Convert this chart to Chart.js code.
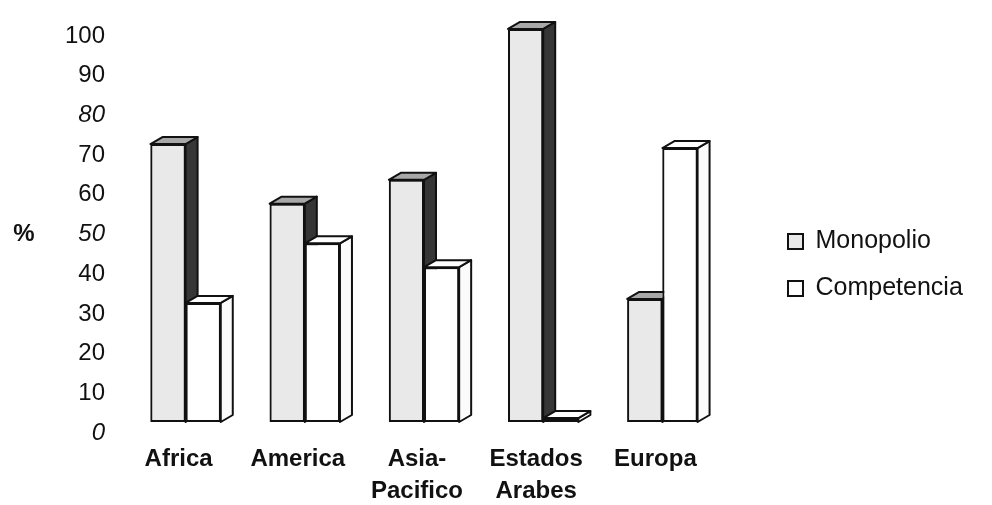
<!DOCTYPE html>
<html>
<head>
<meta charset="utf-8">
<script src="https://cdn.jsdelivr.net/npm/chart.js@4/dist/chart.umd.min.js"></script>
<style>
  body { margin: 0; background: #fff; }
  #chart { display: block; }
</style>
</head>
<body>
<canvas id="chart" width="992" height="505"></canvas>
<script>
const regions = ['Africa', 'America', ['Asia-', 'Pacifico'], ['Estados', 'Arabes'], 'Europa'];
const monopolio = [70, 55, 61, 99, 31];
const competencia = [30, 45, 39, 1, 69];
const seriesNames = ['Monopolio', 'Competencia'];
const italicTicks = [0, 50, 80];

const FONT = "'Liberation Sans', Arial, sans-serif";
const INK = '#111';
const DX = 12, DY = 7;

const faces = [
    { front: '#e9e9e9', side: '#363636', top: '#a8a8a8' },
    { front: '#ffffff', side: '#fbfbfb', top: '#ffffff' }
];

// redraw every bar in dataset order with its side and top faces,
// so the right-hand bar of a pair covers the side of the left one
const depthPlugin = {
    id: 'depth',
    afterDatasetsDraw(chart) {
        const ctx = chart.ctx;
        chart.data.datasets.forEach((ds, i) => {
            const f = faces[i];
            chart.getDatasetMeta(i).data.forEach(bar => {
                const { x, y, base, width } = bar.getProps(['x', 'y', 'base', 'width'], true);
                const l = x - width / 2, r = x + width / 2;
                bar.draw(ctx);
                ctx.save();
                ctx.lineWidth = 2;
                ctx.strokeStyle = INK;
                ctx.lineJoin = 'round';

                ctx.beginPath();
                ctx.moveTo(r, y);
                ctx.lineTo(r + DX, y - DY);
                ctx.lineTo(r + DX, base - DY);
                ctx.lineTo(r, base);
                ctx.closePath();
                ctx.fillStyle = f.side;
                ctx.fill();
                ctx.stroke();

                ctx.beginPath();
                ctx.moveTo(l, y);
                ctx.lineTo(l + DX, y - DY);
                ctx.lineTo(r + DX, y - DY);
                ctx.lineTo(r, y);
                ctx.closePath();
                ctx.fillStyle = f.top;
                ctx.fill();
                ctx.stroke();
                ctx.restore();
            });
        });
    }
};

// the "%" unit sits beside the 50 tick
const unitPlugin = {
    id: 'unit',
    afterDraw(chart) {
        const y = chart.scales.y;
        const ctx = chart.ctx;
        ctx.save();
        ctx.font = 'bold 24px ' + FONT;
        ctx.fillStyle = INK;
        ctx.textAlign = 'center';
        ctx.textBaseline = 'middle';
        ctx.fillText('%', 24, y.getPixelForValue(50) + y.options.ticks.labelOffset);
        ctx.restore();
    }
};

new Chart(document.getElementById('chart'), {
    type: 'bar',
    data: {
        labels: regions,
        datasets: [
            {
                label: seriesNames[0],
                data: monopolio,
                backgroundColor: faces[0].front,
                borderColor: INK,
                borderWidth: 2,
                borderSkipped: false
            },
            {
                label: seriesNames[1],
                data: competencia,
                backgroundColor: faces[1].front,
                borderColor: INK,
                borderWidth: 2,
                borderSkipped: false
            }
        ]
    },
    options: {
        responsive: false,
        animation: false,
        devicePixelRatio: 1,
        layout: { padding: { top: 25, bottom: 0, left: 0, right: 26 } },
        datasets: { bar: { categoryPercentage: 0.59, barPercentage: 1 } },
        scales: {
            x: {
                grid: { display: false, drawTicks: false },
                border: { display: false },
                afterFit: s => { s.height = 83; },
                ticks: {
                    padding: 21,
                    labelOffset: -7,
                    color: INK,
                    font: { family: FONT, size: 24, weight: 'bold', lineHeight: 1.33 }
                }
            },
            y: {
                min: 0,
                max: 100,
                grid: { display: false, drawTicks: true, tickLength: 21 },
                border: { display: false },
                afterFit: s => { s.width = 126; },
                ticks: {
                    stepSize: 10,
                    padding: 0,
                    labelOffset: 11,
                    color: INK,
                    font: ctx => ({
                        family: FONT,
                        size: 24,
                        style: ctx.tick && italicTicks.includes(ctx.tick.value) ? 'italic' : 'normal'
                    })
                }
            },
            gap: {
                type: 'linear',
                position: 'right',
                grid: { display: false },
                border: { display: false },
                ticks: { display: false },
                afterFit: s => { s.width = 44; }
            }
        },
        plugins: {
            tooltip: { enabled: false },
            legend: {
                position: 'right',
                maxWidth: 200,
                maxHeight: 471,
                labels: {
                    boxWidth: 15,
                    boxHeight: 15,
                    padding: 22,
                    color: INK,
                    font: { family: FONT, size: 25 },
                    sort: (a, b) => a.datasetIndex - b.datasetIndex
                }
            }
        }
    },
    plugins: [depthPlugin, unitPlugin]
});
</script>
</body>
</html>
